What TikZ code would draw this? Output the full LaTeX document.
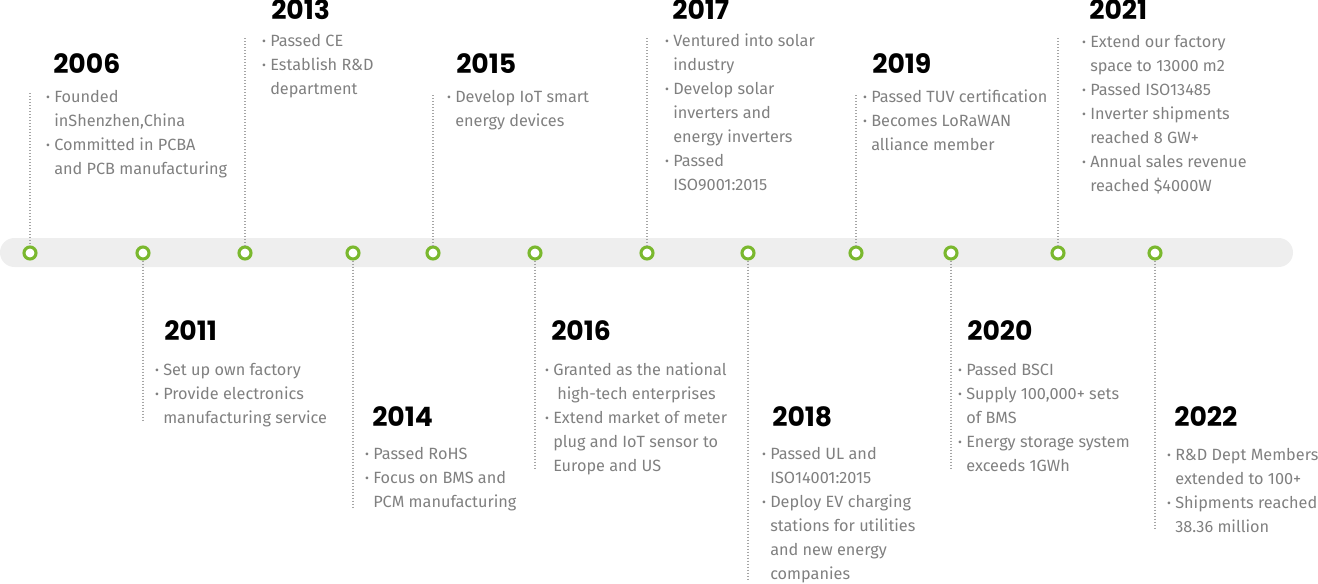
\documentclass[tikz,border=0pt]{standalone}
\usepackage{fontspec}
\setmainfont{Fira Sans}
\newfontfamily\yearfont{Poppins}

\definecolor{ringgreen}{RGB}{122,184,46}
\definecolor{bodygray}{RGB}{128,128,128}
\definecolor{bargray}{RGB}{238,238,238}
\definecolor{stemgray}{RGB}{165,165,165}

% bullet hung left of the text
\newcommand{\itm}{\strut\llap{\raisebox{0.6pt}{\fontsize{9}{9}\selectfont •}\hspace{3.2pt}}}

\tikzset{
  year/.style={anchor=base west,inner sep=0pt,
    font=\yearfont\bfseries\fontsize{20}{20}\selectfont},
  info/.style={anchor=north west,align=left,inner sep=0pt,text=bodygray,
    font=\fontsize{12.2}{18}\selectfont},
  ring/.style={circle,draw=ringgreen,line width=2.3pt,fill=white,
    minimum size=9pt,inner sep=0pt},
  stem/.style={stemgray,line width=0.85pt,dash pattern=on 0.85pt off 1.4pt}
}

\begin{document}
\begin{tikzpicture}[x=0.75pt,y=-0.75pt]
\useasboundingbox (0,0) rectangle (1318,583);

% the bar
\fill[bargray,rounded corners=10.8pt] (0,238) rectangle (1293,267);

% rings on the bar
\foreach \x/\n in {30/1,143/2,245/3,353/4,433/5,535/6,647/7,748/8,856/9,951/10,1058/11,1155/12}
  \node[ring] (d\n) at (\x,253) {};

% stems
\coordinate (s1) at (30,93);
\coordinate (s3) at (245,38);
\coordinate (s5) at (433,95);
\coordinate (s7) at (647,38);
\coordinate (s9) at (856,95);
\coordinate (s11) at (1058,38);
\coordinate (s2) at (143,421);
\coordinate (s4) at (353,508);
\coordinate (s6) at (535,470);
\coordinate (s8) at (748,579);
\coordinate (s10) at (951,470);
\coordinate (s12) at (1155,530);
\foreach \n in {1,3,5,7,9,11} \draw[stem] (s\n) -- (d\n.north);
\foreach \n in {2,4,6,8,10,12} \draw[stem] (d\n.south) -- (s\n);

% above the bar
\node[year] (y2006) at (53,73) {2006};
\node[info] (t2006) at (54,85) {\itm Founded\\inShenzhen,China\\\itm Committed in PCBA\\and PCB manufacturing};

\node[year] (y2013) at (271,19) {2013};
\node[info] (t2013) at (270,29) {\itm Passed CE\\\itm Establish R\&D\\department};

\node[year] (y2015) at (456,73) {2015};
\node[info] (t2015) at (455,85) {\itm Develop IoT smart\\energy devices};

\node[year] (y2017) at (672,19) {2017};
\node[info] (t2017) at (673,29) {\itm Ventured into solar\\industry\\\itm Develop solar\\inverters and\\energy inverters\\\itm Passed\\ISO9001:2015};

\node[year] (y2019) at (872,73) {2019};
\node[info] (t2019) at (871,85) {\itm Passed TUV certification\\\itm Becomes LoRaWAN\\alliance member};

\node[year] (y2021) at (1089,19) {2021};
\node[info] (t2021) at (1090,30) {\itm Extend our factory\\space to 13000 m2\\\itm Passed ISO13485\\\itm Inverter shipments\\reached 8 GW+\\\itm Annual sales revenue\\reached \$4000W};

% below the bar
\node[year] (y2011) at (164,340) {2011};
\node[info] (t2011) at (163,358) {\itm Set up own factory\\\itm Provide electronics\\manufacturing service};

\node[year] (y2014) at (372,426) {2014};
\node[info] (t2014) at (373,442) {\itm Passed RoHS\\\itm Focus on BMS and\\PCM manufacturing};

\node[year] (y2016) at (551,340) {2016};
\node[info] (t2016) at (553,358) {\itm Granted as the national\\\hspace{3pt}high-tech enterprises\\\itm Extend market of meter\\plug and IoT sensor to\\Europe and US};

\node[year] (y2018) at (772,426) {2018};
\node[info] (t2018) at (770,442) {\itm Passed UL and\\ISO14001:2015\\\itm Deploy EV charging\\stations for utilities\\and new energy\\companies};

\node[year] (y2020) at (967,340) {2020};
\node[info] (t2020) at (966,358) {\itm Passed BSCI\\\itm Supply 100,000+ sets\\of BMS\\\itm Energy storage system\\exceeds 1GWh};

\node[year] (y2022) at (1174,426) {2022};
\node[info] (t2022) at (1175,443) {\itm R\&D Dept Members\\extended to 100+\\\itm Shipments reached\\38.36 million};
\end{tikzpicture}
\end{document}
